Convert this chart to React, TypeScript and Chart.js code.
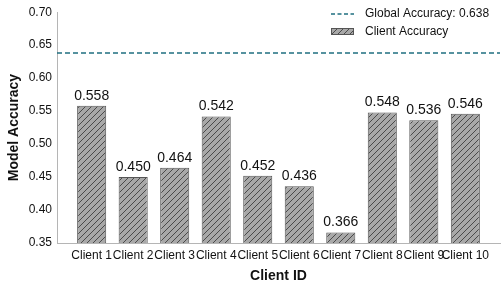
import React, { useEffect, useRef } from "react";
import { Chart, registerables } from "chart.js";

Chart.register(...registerables);

const clients = ["Client 1", "Client 2", "Client 3", "Client 4", "Client 5", "Client 6", "Client 7", "Client 8", "Client 9", "Client 10"];
const accuracies = [0.558, 0.45, 0.464, 0.542, 0.452, 0.436, 0.366, 0.548, 0.536, 0.546];
const globalAccuracy = 0.638;
const yTicks = [0.35, 0.4, 0.45, 0.5, 0.55, 0.6, 0.65, 0.7];

const FONT = "'Liberation Sans', Arial, sans-serif";
const TEAL = "#1f6f80";
const BAR_FILL = "#a8a8a8";
const HATCH = "#4a4a4a";
const EDGE = "#555555";

function makeHatch(): CanvasPattern | string {
  const s = 6;
  const c = document.createElement("canvas");
  c.width = s;
  c.height = s;
  const g = c.getContext("2d");
  if (!g) return BAR_FILL;
  g.fillStyle = BAR_FILL;
  g.fillRect(0, 0, s, s);
  g.strokeStyle = HATCH;
  g.lineWidth = 1;
  g.beginPath();
  g.moveTo(0, s);
  g.lineTo(s, 0);
  g.moveTo(-1, 1);
  g.lineTo(1, -1);
  g.moveTo(s - 1, s + 1);
  g.lineTo(s + 1, s - 1);
  g.stroke();
  return g.createPattern(c, "repeat") || BAR_FILL;
}

export default function App() {
  const ref = useRef<HTMLCanvasElement | null>(null);

  useEffect(() => {
    document.body.style.margin = "0";
    const canvas = ref.current;
    if (!canvas) return;
    const hatch = makeHatch();
    const xMin = -0.835;
    const xMax = clients.length - 1 + 0.835;

    const labelPlugin = {
      id: "extras",
      afterDatasetsDraw(chart: any) {
        const ctx = chart.ctx;
        const meta = chart.getDatasetMeta(1);
        ctx.save();
        ctx.font = `14px ${FONT}`;
        ctx.fillStyle = "#111";
        ctx.textAlign = "center";
        ctx.textBaseline = "alphabetic";
        meta.data.forEach((el: any, i: number) => {
          ctx.fillText(accuracies[i].toFixed(3), el.x, el.y - 6);
        });
        // legend
        const lx = 331;
        ctx.strokeStyle = TEAL;
        ctx.lineWidth = 1.5;
        ctx.setLineDash([4, 2.5]);
        ctx.beginPath();
        ctx.moveTo(lx, 14);
        ctx.lineTo(lx + 23, 14);
        ctx.stroke();
        ctx.setLineDash([]);
        ctx.fillStyle = hatch;
        ctx.fillRect(lx, 28, 23, 7);
        ctx.strokeStyle = EDGE;
        ctx.lineWidth = 1;
        ctx.strokeRect(lx + 0.5, 28.5, 22, 6);
        ctx.font = `12px ${FONT}`;
        ctx.fillStyle = "#111";
        ctx.textAlign = "left";
        ctx.textBaseline = "middle";
        ctx.fillText(`Global Accuracy: ${globalAccuracy.toFixed(3)}`, 365, 14);
        ctx.fillText("Client Accuracy", 365, 32);
        ctx.restore();
      },
    };

    const chart = new Chart(canvas, {
      type: "bar",
      data: {
        datasets: [
          {
            type: "line",
            label: "Global Accuracy",
            data: [
              { x: xMin, y: globalAccuracy },
              { x: xMax, y: globalAccuracy },
            ],
            borderColor: TEAL,
            borderWidth: 1.5,
            borderDash: [5, 3],
            pointRadius: 0,
            fill: false,
            order: 0,
          } as any,
          {
            type: "bar",
            label: "Client Accuracy",
            data: accuracies.map((v, i) => ({ x: i, y: v })),
            backgroundColor: hatch as any,
            borderColor: EDGE,
            borderWidth: 1,
            categoryPercentage: 1,
            barPercentage: 0.7,
            base: 0.35,
            order: 1,
          } as any,
        ],
      },
      options: {
        animation: false,
        responsive: false,
        maintainAspectRatio: false,
        layout: { padding: { top: 10, right: 4, left: 0, bottom: 0 } },
        plugins: {
          legend: { display: false },
          tooltip: { enabled: false },
        },
        scales: {
          x: {
            type: "linear",
            offset: false,
            min: xMin,
            max: xMax,
            afterBuildTicks: (scale: any) => {
              scale.ticks = clients.map((_, i) => ({ value: i }));
            },
            afterFit: (scale: any) => {
              scale.height = 45;
            },
            grid: { display: false, drawTicks: false },
            border: { display: true, color: "#b5b5b5", width: 1 },
            ticks: {
              autoSkip: false,
              maxRotation: 0,
              padding: 5,
              color: "#111",
              font: { family: FONT, size: 12 },
              callback: (v: any) => clients[Math.round(Number(v))] ?? "",
            },
            title: {
              display: true,
              text: "Client ID",
              color: "#111",
              font: { family: FONT, size: 14, weight: "bold" },
              padding: { top: 0, bottom: 3 },
            },
          },
          y: {
            min: 0.35,
            max: 0.7,
            afterBuildTicks: (scale: any) => {
              scale.ticks = yTicks.map((v) => ({ value: v }));
            },
            afterFit: (scale: any) => {
              scale.width = 57;
            },
            grid: { display: false, drawTicks: false },
            border: { display: true, color: "#b5b5b5", width: 1 },
            ticks: {
              padding: 5,
              color: "#111",
              font: { family: FONT, size: 12 },
              callback: (v: any) => Number(v).toFixed(2),
            },
            title: {
              display: true,
              text: "Model Accuracy",
              color: "#111",
              font: { family: FONT, size: 14, weight: "bold" },
              padding: { top: 6, bottom: 0 },
            },
          },
        },
      },
      plugins: [labelPlugin],
    } as any);

    return () => chart.destroy();
  }, []);

  return (
    <div style={{ position: "fixed", left: 0, top: 0, width: 504, height: 288 }}>
      <canvas ref={ref} width={504} height={288} style={{ width: 504, height: 288 }} />
    </div>
  );
}
